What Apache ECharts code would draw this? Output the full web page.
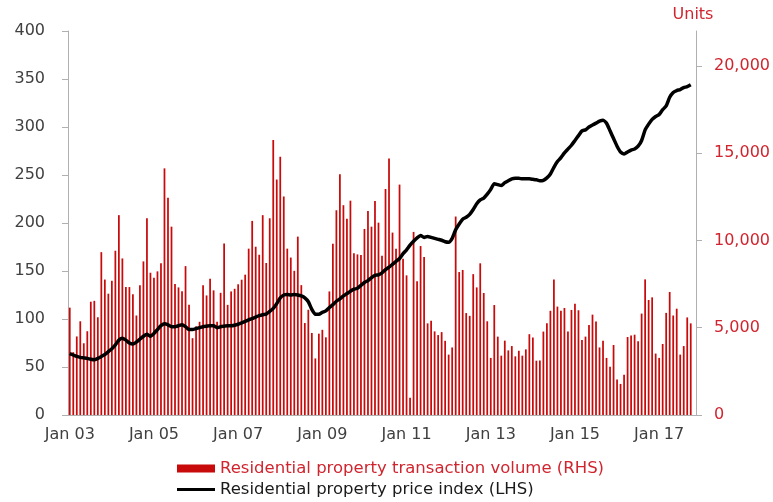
<!DOCTYPE html>
<html>
<head>
<meta charset="utf-8">
<title>Residential property</title>
<script src="https://cdn.jsdelivr.net/npm/echarts@6/dist/echarts.min.js"></script>
<style>
    html, body { margin: 0; padding: 0; background: #fff; }
    #chart { width: 773px; height: 502px; }
</style>
</head>
<body>
<div id="chart"></div>
<script>
// months Jan 03 .. Nov 17
const startYear = 2003
const monthCount = 179
const months = []
for (let i = 0; i < monthCount; i++) {
    const yy = String((startYear + Math.floor(i / 12)) % 100).padStart(2, '0')
    const mm = ['Jan', 'Feb', 'Mar', 'Apr', 'May', 'Jun', 'Jul', 'Aug', 'Sep', 'Oct', 'Nov', 'Dec'][i % 12]
    months.push(mm + ' ' + yy)
}

// transaction volume, units (RHS)
const volume = [
    6150, 3600, 4500, 5370, 4110, 4800, 6490, 6540, 5600, 9330, 7760, 6950,
    7690, 9410, 11450, 8970, 7330, 7330, 6920, 5700, 7430, 8800, 11270, 8150,
    7870, 8230, 8690, 14130, 12440, 10790, 7500, 7310, 7090, 8530, 6310, 4400,
    5080, 5340, 7440, 6850, 7800, 7140, 5340, 7000, 9820, 6310, 7080, 7230,
    7490, 7750, 8040, 9530, 11120, 9640, 9180, 11450, 8710, 11270, 15760, 13490,
    14800, 12520, 9530, 9020, 8260, 10220, 7440, 5270, 6030, 4700, 3240, 4660,
    4880, 4450, 7080, 9810, 11730, 13800, 12020, 11250, 12280, 9260, 9200, 9170,
    10660, 11690, 10790, 12260, 11020, 9130, 12950, 14700, 10450, 9520, 13200, 8950,
    8000, 990, 10490, 7660, 9680, 9050, 5250, 5400, 4790, 4580, 4750, 4250,
    3460, 3870, 11370, 8190, 8310, 5840, 5680, 8070, 7310, 8690, 6990, 5370,
    3270, 6300, 4490, 3400, 4260, 3700, 3950, 3360, 3680, 3400, 3760, 4630,
    4440, 3110, 3120, 4780, 5250, 5970, 7770, 6210, 5970, 6130, 4790, 6020,
    6380, 6000, 4300, 4490, 5160, 5750, 5350, 3870, 4260, 3270, 2770, 4010,
    2030, 1780, 2310, 4470, 4560, 4600, 4220, 5810, 7770, 6590, 6740, 3520,
    3270, 4070, 5850, 7050, 5700, 6090, 3460, 3950, 5590, 5250, null
]

// price index (LHS)
const priceIndex = [
    64, 62.5, 61, 60, 59.5, 59, 58, 57.5, 59, 61, 63, 66,
    69, 73, 78, 80, 78, 75, 74, 76, 79, 82, 84, 82,
    85, 89, 93, 95, 94, 92, 92, 93, 94, 92, 89, 89,
    90, 91, 92, 92.5, 93, 93, 91, 92, 92.5, 93, 93, 93.5,
    94.5, 96, 97.5, 99, 100.5, 102, 103.5, 104.5, 105, 108, 111, 116,
    122, 125, 125.5, 125, 125.5, 125, 124, 122, 118, 110, 105, 105,
    107, 108.5, 112, 115, 118.5, 121, 124, 126.5, 129, 131, 132, 135,
    138, 140, 143, 145.5, 146, 148, 151.5, 154, 157, 160, 163, 168,
    172, 177, 181, 184.5, 187, 185, 186, 185, 184, 183, 182, 180.5,
    180, 184, 193, 199, 204, 206, 209, 214, 220, 224, 226, 230,
    235, 241, 240, 239, 242, 244, 246, 246.5, 246.5, 246, 246, 246,
    245.5, 245, 244, 244.5, 247, 251, 258, 264, 268, 273, 277, 281,
    286, 291, 296, 297, 300, 302, 304, 306, 307, 304, 296, 288,
    280, 274, 272, 274, 276, 277, 280, 286, 297, 303, 308, 311,
    313, 318, 322, 331, 336, 338, 339, 341, 342, 344, null
]

const volumeName = 'Residential property transaction volume (RHS)'
const priceName = 'Residential property price index (LHS)'

const red = '#c80a0a'
const redText = '#d0252f'
const greyText = '#404040'
const axisGrey = '#b0b0b0'
const font = 'DejaVu Sans'

const chart = echarts.init(document.getElementById('chart'))

chart.setOption({
    animation: false,
    backgroundColor: '#fff',
    textStyle: { fontFamily: font },
    grid: { left: 68, right: 77, top: 31, bottom: 87 },
    legend: {
        orient: 'vertical',
        left: 177,
        top: 460,
        padding: 0,
        itemWidth: 38,
        itemHeight: 8,
        itemGap: 4,
        textStyle: { fontFamily: font, fontSize: 16.5, lineHeight: 16 },
        data: [
            { name: volumeName, icon: 'rect', textStyle: { color: redText } },
            { name: priceName, icon: 'path://M0 0H38V3H0Z', textStyle: { color: '#1a1a1a' } }
        ]
    },
    xAxis: {
        type: 'category',
        data: months,
        boundaryGap: true,
        axisLine: { lineStyle: { color: axisGrey } },
        axisTick: { interval: 23, length: 5, lineStyle: { color: axisGrey } },
        axisLabel: {
            interval: 23,
            margin: 12,
            color: greyText,
            fontFamily: font,
            fontSize: 16
        }
    },
    yAxis: [
        {
            type: 'value',
            min: 0,
            max: 400,
            interval: 50,
            splitLine: { show: false },
            axisLine: { show: true, lineStyle: { color: axisGrey } },
            axisTick: { show: true, length: 6, lineStyle: { color: axisGrey } },
            axisLabel: { margin: 23, color: greyText, fontFamily: font, fontSize: 16 }
        },
        {
            type: 'value',
            position: 'right',
            min: 0,
            max: 22000,
            interval: 5000,
            name: 'Units',
            nameLocation: 'end',
            nameGap: 8,
            nameTextStyle: { color: redText, fontFamily: font, fontSize: 16, padding: [0, 6, 0, 0] },
            splitLine: { show: false },
            axisLine: { show: true, lineStyle: { color: axisGrey } },
            axisTick: { show: true, length: 6, lineStyle: { color: axisGrey } },
            axisLabel: {
                margin: 18,
                showMaxLabel: false,
                color: redText,
                fontFamily: font,
                fontSize: 16,
                formatter: v => v.toLocaleString('en-US')
            }
        }
    ],
    series: [
        {
            name: volumeName,
            type: 'bar',
            yAxisIndex: 1,
            data: volume,
            barWidth: '50%',
            itemStyle: { color: red }
        },
        {
            name: priceName,
            type: 'line',
            yAxisIndex: 0,
            data: priceIndex,
            symbol: 'none',
            smooth: 0.2,
            lineStyle: { color: '#000', width: 3.5 },
            itemStyle: { color: '#000' }
        }
    ]
})
</script>
</body>
</html>
